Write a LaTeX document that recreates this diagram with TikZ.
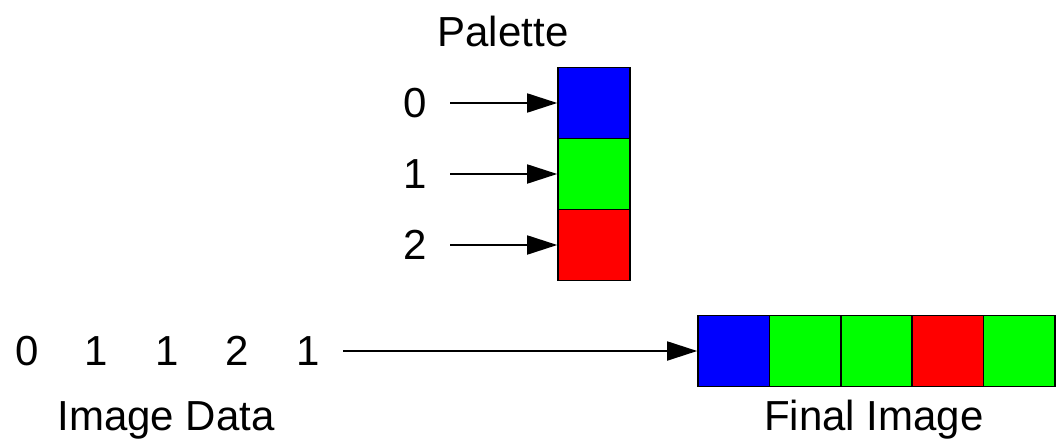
\documentclass[tikz,border=0pt]{standalone}
\usepackage{fontspec}
\setmainfont{Liberation Sans}
\usetikzlibrary{arrows.meta}
\definecolor{pblue}{RGB}{0,0,255}
\definecolor{pgreen}{RGB}{0,255,0}
\definecolor{pred}{RGB}{255,0,0}
\begin{document}
\begin{tikzpicture}[x=1pt,y=-1pt,
  every node/.style={font=\fontsize{42}{50}\selectfont, inner sep=0pt},
  cell/.style={draw=black, line width=1.6pt, minimum width=72pt, minimum height=71pt, inner sep=0pt},
  link/.style={line width=1.8pt, -{Triangle[length=30pt,width=19pt]}}]
\useasboundingbox (0,0) rectangle (1064,444);

% palette column
\node (pal) at (503,31) {Palette};
\node[cell, fill=pblue]  (c0) at (594,103) {};
\node[cell, fill=pgreen] (c1) at (594,174) {};
\node[cell, fill=pred]   (c2) at (594,245) {};

% palette indices
\node (i0) at (415,103) {0};
\node (i1) at (415,174) {1};
\node (i2) at (415,245) {2};
\coordinate (s0) at (450,103);
\coordinate (s1) at (450,174);
\coordinate (s2) at (450,245);
\draw[link] (s0) -- (c0.west);
\draw[link] (s1) -- (c1.west);
\draw[link] (s2) -- (c2.west);

% image data
\node (d0) at (27,351) {0};
\node (d1) at (96,351) {1};
\node (d2) at (167,351) {1};
\node (d3) at (237,351) {2};
\node (d4) at (308,351) {1};
\node (lbl) at (166,420) {Image Data};

% final image
\node[cell, minimum width=71.4pt, fill=pblue]  (f0) at (733.7,351) {};
\node[cell, minimum width=71.4pt, fill=pgreen] (f1) at (805.1,351) {};
\node[cell, minimum width=71.4pt, fill=pgreen] (f2) at (876.5,351) {};
\node[cell, minimum width=71.4pt, fill=pred]   (f3) at (947.9,351) {};
\node[cell, minimum width=71.4pt, fill=pgreen] (f4) at (1019.3,351) {};
\node (fin) at (874,420) {Final Image};

\coordinate (sd) at (343,351);
\draw[link] (sd) -- (f0.west);
\end{tikzpicture}
\end{document}
